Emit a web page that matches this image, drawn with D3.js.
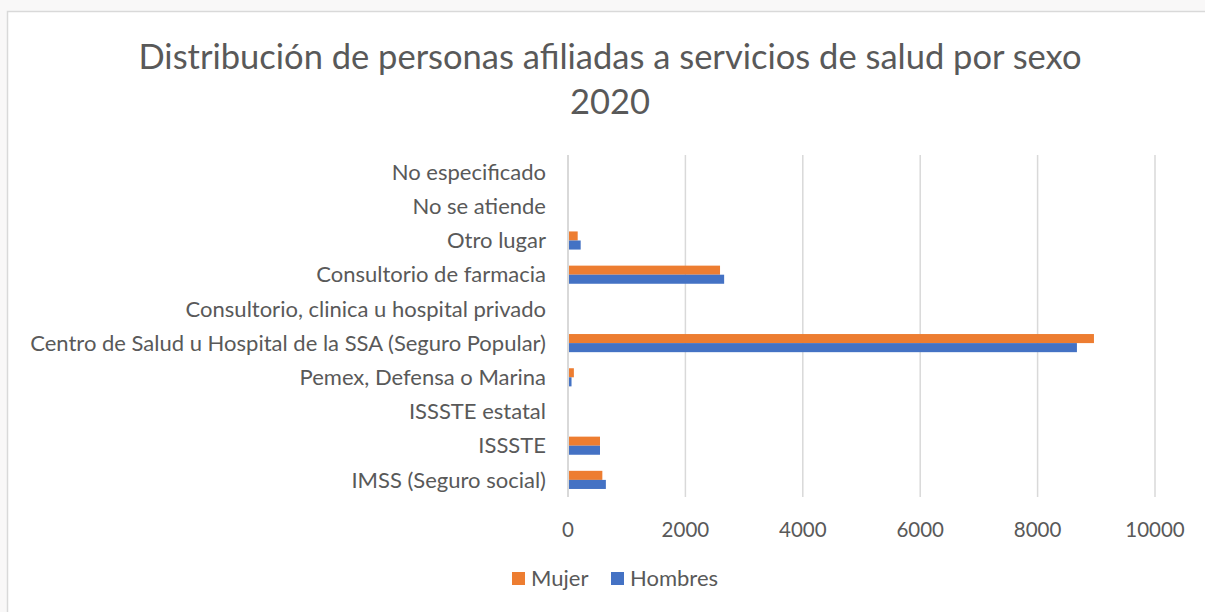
<!DOCTYPE html>
<html>
<head>
<meta charset="utf-8">
<script src="https://cdn.jsdelivr.net/npm/d3@7"></script>
<style>
  body { margin: 0; background: #f9f8f8; }
  text { font-family: Lato, "Open Sans", sans-serif; fill: #595959; }
</style>
</head>
<body>
<div id="main"></div>
<script>
var categories = [
  "No especificado",
  "No se atiende",
  "Otro lugar",
  "Consultorio de farmacia",
  "Consultorio, clinica u hospital privado",
  "Centro de Salud u Hospital de la SSA (Seguro Popular)",
  "Pemex, Defensa o Marina",
  "ISSSTE estatal",
  "ISSSTE",
  "IMSS (Seguro social)"
];
var mujer =   [0, 0, 165, 2590, 0, 8960, 100, 0, 545, 585];
var hombres = [0, 0, 216, 2660, 0, 8670, 60, 0, 545, 645];
var ticks = [0, 2000, 4000, 6000, 8000, 10000];
var seriesNames = ["Mujer", "Hombres"];
var colors = ["#ed7d31", "#4472c4"];

var W = 1205, H = 612;
var margin = { top: 155, left: 568, right: 50, bottom: 115 };

var svg = d3.select("#main")
  .append("svg")
  .attr("width", W)
  .attr("height", H);

// chart box
svg.append("rect")
  .attr("x", 7.5).attr("y", 11.5)
  .attr("width", W + 10).attr("height", H + 10)
  .attr("fill", "#fff")
  .attr("stroke", "#d9d9d9")
  .attr("stroke-width", 1.5);

// title
var title = svg.append("text")
  .attr("text-anchor", "middle")
  .style("font-size", "34.5px");
title.append("tspan").attr("x", 610).attr("y", 69).text("Distribución de personas afiliadas a servicios de salud por sexo");
title.append("tspan").attr("x", 610).attr("y", 114).text("2020");

var x = d3.scaleLinear()
  .domain([0, 10000])
  .range([margin.left, W - margin.right]);

var y = d3.scaleBand()
  .domain(categories)
  .range([margin.top, H - margin.bottom])
  .paddingInner(0.47)
  .paddingOuter(0.235);

var sub = d3.scaleBand()
  .domain(seriesNames)
  .range([0, y.bandwidth()]);

// gridlines
svg.append("g")
  .selectAll("line")
  .data(ticks)
  .enter()
  .append("line")
  .attr("x1", function(d) { return x(d); })
  .attr("x2", function(d) { return x(d); })
  .attr("y1", margin.top)
  .attr("y2", H - margin.bottom)
  .attr("stroke", "#d9d9d9")
  .attr("stroke-width", function(d) { return d === 0 ? 2 : 1.5; });

// x tick labels
svg.append("g")
  .selectAll("text")
  .data(ticks)
  .enter()
  .append("text")
  .attr("x", function(d) { return x(d); })
  .attr("y", 537)
  .attr("text-anchor", "middle")
  .style("font-size", "20.5px")
  .text(function(d) { return d; });

// category labels
svg.append("g")
  .selectAll("text")
  .data(categories)
  .enter()
  .append("text")
  .attr("x", margin.left - 22)
  .attr("y", function(d) { return y(d) + y.bandwidth() / 2; })
  .attr("dy", "0.35em")
  .attr("text-anchor", "end")
  .style("font-size", "22px")
  .text(function(d) { return d; });

// bars
var rows = categories.map(function(c, i) {
  return [
    { cat: c, s: "Mujer", v: mujer[i], c: colors[0] },
    { cat: c, s: "Hombres", v: hombres[i], c: colors[1] }
  ];
});

svg.append("g")
  .selectAll("g")
  .data(rows)
  .enter()
  .append("g")
  .selectAll("rect")
  .data(function(d) { return d; })
  .enter()
  .append("rect")
  .attr("x", x(0) + 1)
  .attr("y", function(d) { return y(d.cat) + sub(d.s); })
  .attr("width", function(d) { return d.v > 0 ? Math.max(0, x(d.v) - x(0) - 1) : 0; })
  .attr("height", sub.bandwidth())
  .attr("fill", function(d) { return d.c; });

// legend
var legend = svg.append("g")
  .selectAll("g")
  .data(seriesNames)
  .enter()
  .append("g")
  .attr("transform", function(d, i) { return "translate(" + [512, 611][i] + ",572)"; });

legend.append("rect")
  .attr("width", 13).attr("height", 13)
  .attr("fill", function(d, i) { return colors[i]; });

legend.append("text")
  .attr("x", 19).attr("y", 6.5)
  .attr("dy", "0.35em")
  .style("font-size", "22px")
  .text(function(d) { return d; });
</script>
</body>
</html>
